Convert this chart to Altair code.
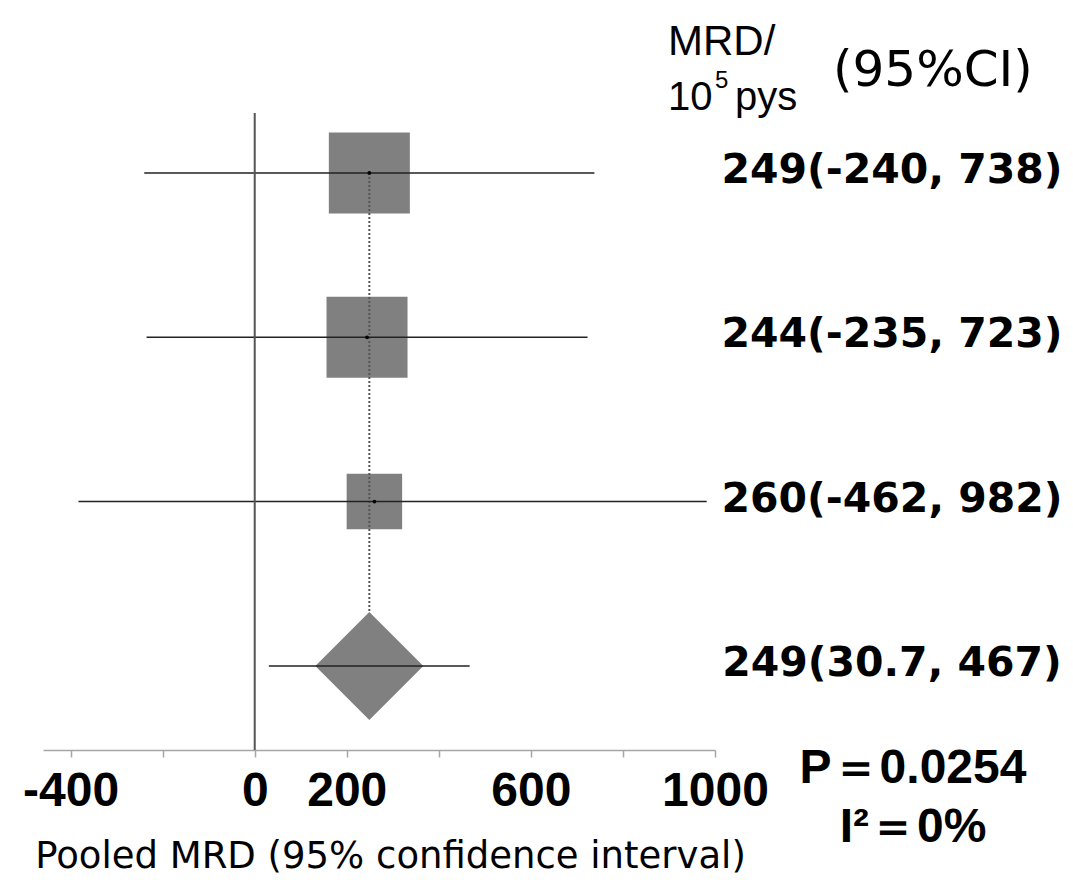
import altair as alt
import pandas as pd

# ---- data ----
study_row = [0, 1, 2]
study_est = [249, 244, 260]
study_low_drawn = [-240, -235, -383]   # third line is cut at about -383 in the figure
study_high = [738, 723, 982]
study_weight = [40.5, 40.5, 19.0]

pooled_row = [3]
pooled_est = [249]
pooled_low = [30.7]
pooled_high = [467]

label_row = [0, 1, 2, 3]
label_text = ["249(-240, 738)", "244(-235, 723)", "260(-462, 982)", "249(30.7, 467)"]

x_ticks = [-400, -200, 0, 200, 400, 600, 800, 1000]
x_labeled = [-400, 0, 200, 600, 1000]

p_text = "P\uff1d0.0254"
i2_text = "I\u00b2\uff1d0%"

# ---- tables ----
studies = pd.DataFrame({"row": study_row, "est": study_est, "low": study_low_drawn,
                        "high": study_high, "w": study_weight})
ci = pd.DataFrame({"row": study_row + pooled_row, "est": study_est + pooled_est,
                   "low": study_low_drawn + pooled_low, "high": study_high + pooled_high})
pooled = pd.DataFrame({"row": pooled_row, "est": pooled_est})
dotted = pd.DataFrame({"row": [0], "row_end": pooled_row, "est": pooled_est})
labels = pd.DataFrame({"row": label_row, "t": label_text})
zero = pd.DataFrame({"z": [0]})

xs = alt.Scale(domain=[-460, 1000], nice=False, zero=False)
ys = alt.Scale(domain=[-0.365, 3.512], nice=False, zero=False, reverse=True)

label_list = ",".join(str(v) for v in x_labeled)
x_axis = alt.Axis(
    values=x_ticks,
    labelExpr=f"indexof([{label_list}], datum.value) >= 0 ? '' + datum.value : ''",
    title="Pooled MRD (95% confidence interval)",
    grid=False,
    domainColor="#a6a6a6", domainWidth=1.5,
    tickColor="#a6a6a6", tickWidth=1.5, tickSize=7,
    labelFont="Liberation Sans", labelFontSize=48,
    labelFontWeight="bold", labelColor="black", labelPadding=10,
    labelOverlap=False, labelFlush=False,
    titleFont="DejaVu Sans", titleFontSize=37, titleFontWeight="normal",
    titleColor="black", titleX=347, titleY=106, titleBaseline="middle",
    titleAlign="center",
)

def X(field):
    return alt.X(field, type="quantitative", scale=xs, axis=x_axis)

def Y(field):
    return alt.Y(field, type="quantitative", scale=ys, axis=None)

squares = alt.Chart(studies).mark_square(filled=True, color="#808080", opacity=1).encode(
    x=X("est"), y=Y("row"),
    size=alt.Size("w:Q", scale=alt.Scale(domain=[0, 40.5], range=[0, 6561]), legend=None),
)

dotline = alt.Chart(dotted).mark_rule(color="#555555", strokeWidth=2, strokeDash=[2, 2]).encode(
    x=X("est"), y=Y("row"), y2="row_end:Q"
)

diamond = alt.Chart(pooled).mark_point(shape="diamond", filled=True, color="#808080",
                                       opacity=1, size=11664).encode(
    x=X("est"), y=Y("row")
)

ci_lines = alt.Chart(ci).mark_rule(color="#222222", strokeWidth=1.5).encode(
    x=X("low"), x2="high:Q", y=Y("row")
)

dots = alt.Chart(studies).mark_circle(color="black", opacity=1, size=14).encode(
    x=X("est"), y=Y("row")
)

zero_line = alt.Chart(zero).mark_rule(color="#555555", strokeWidth=2).encode(x=X("z"))

right_labels = alt.Chart(labels).mark_text(
    font="DejaVu Sans", fontWeight="bold", fontSize=41, color="black",
    align="center", baseline="middle", dy=-2,
).encode(x=alt.value(849), y=Y("row"), text="t:N")


def free_text(txt, x, y, size, font, weight="normal", align="left"):
    return alt.Chart(pd.DataFrame({"t": [txt]})).mark_text(
        font=font, fontSize=size, fontWeight=weight, color="black",
        align=align, baseline="alphabetic",
    ).encode(x=alt.value(x), y=alt.value(y), text="t:N")


stat_p = free_text(p_text, 870, 670, 48, "Liberation Sans", "bold", "center")
stat_i = free_text(i2_text, 870, 729, 48, "Liberation Sans", "bold", "center")

hdr_mrd = free_text("MRD/", 625, -58, 42, "Liberation Sans")
hdr_10 = free_text("10", 625, -3, 40, "Liberation Sans")
hdr_5 = free_text("5", 672, -25, 24, "Liberation Sans")
hdr_pys = free_text("pys", 692, -3, 40, "Liberation Sans")
hdr_ci = free_text("(95%CI)", 790, -27, 50, "DejaVu Sans")

chart = alt.layer(
    squares, dotline, diamond, ci_lines, dots, zero_line,
    right_labels, stat_p, stat_i, hdr_mrd, hdr_10, hdr_5, hdr_pys, hdr_ci,
).properties(
    width=672, height=637,
    autosize=alt.AutoSizeParams(type="none"),
    padding={"left": 35, "top": 105, "right": 350, "bottom": 126},
).configure(background="white").configure_view(stroke=None)

chart.save("out.html", embed_options={"renderer": "svg", "actions": False})
